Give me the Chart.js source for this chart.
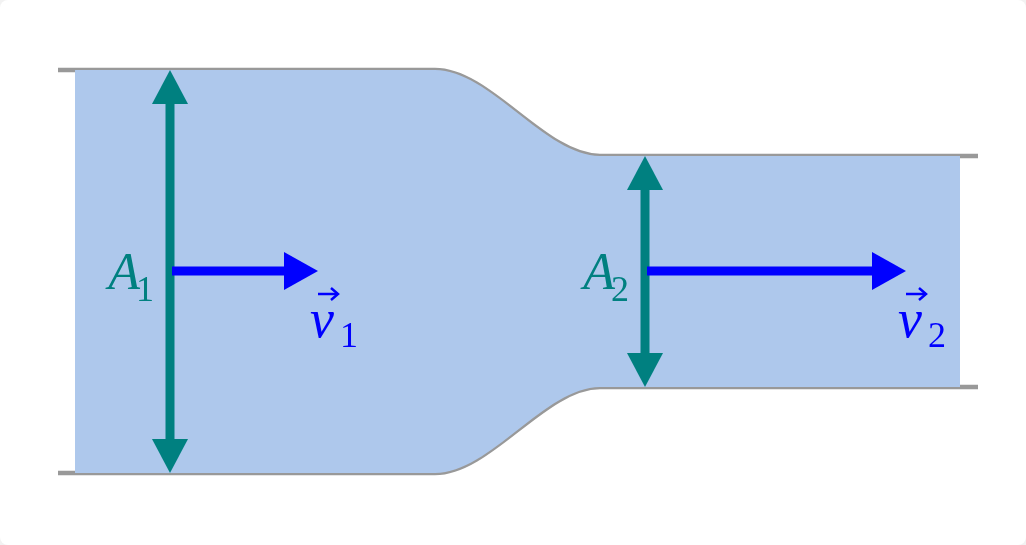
<!DOCTYPE html>
<html>
<head>
<meta charset="utf-8">
<script src="https://cdn.jsdelivr.net/npm/chart.js@4"></script>
<style>
  html, body { margin: 0; padding: 0; background: #f2f2f2; }
  #wrap { width: 1026px; height: 545px; background: #fff; border-radius: 8px; overflow: hidden; }
</style>
</head>
<body>
<div id="wrap"><canvas id="c" width="1026" height="545"></canvas></div>
<script>
// pipe profile (diagram units, y grows downward)
const wallX = [58, 435, 600, 978];
const topWall = [70, 70, 156, 156];
const bottomWall = [473, 473, 387, 387];
const fillX = [75, 435, 600, 960];

// sections: x position, top, bottom, velocity arrow end
const sections = [
  { x: 170, top: 70, bottom: 473, vEnd: 318, label: '1' },
  { x: 645, top: 156, bottom: 387, vEnd: 906, label: '2' }
];
const flowY = 271;

const teal = '#008080';
const blue = '#0000ff';
const pts = (xs, ys) => xs.map((x, i) => ({ x: x, y: ys[i] }));

const datasets = [
  { data: pts(fillX, topWall), showLine: true, borderWidth: 0, pointRadius: 0, cubicInterpolationMode: 'monotone', fill: false },
  { data: pts(fillX, bottomWall), showLine: true, borderWidth: 0, pointRadius: 0, cubicInterpolationMode: 'monotone',
    fill: '-1', backgroundColor: '#aec8ec' },
  { data: pts(wallX, topWall), showLine: true, borderColor: '#999', borderWidth: 4.5, pointRadius: 0, cubicInterpolationMode: 'monotone' },
  { data: pts(wallX, bottomWall), showLine: true, borderColor: '#999', borderWidth: 4.5, pointRadius: 0, cubicInterpolationMode: 'monotone' }
];

const decor = {
  id: 'decor',
  afterDatasetsDraw(chart) {
    const ctx = chart.ctx, xs = chart.scales.x, ys = chart.scales.y;
    const tri = (color, p) => {
      ctx.fillStyle = color; ctx.beginPath();
      ctx.moveTo(p[0][0], p[0][1]); ctx.lineTo(p[1][0], p[1][1]); ctx.lineTo(p[2][0], p[2][1]);
      ctx.closePath(); ctx.fill();
    };
    const seg = (color, x1, y1, x2, y2) => {
      ctx.strokeStyle = color; ctx.lineWidth = 9; ctx.lineCap = 'butt';
      ctx.beginPath(); ctx.moveTo(x1, y1); ctx.lineTo(x2, y2); ctx.stroke();
    };
    ctx.save();
    sections.forEach(s => {
      const px = xs.getPixelForValue(s.x);
      const t = ys.getPixelForValue(s.top), b = ys.getPixelForValue(s.bottom);
      const fy = ys.getPixelForValue(flowY), ve = xs.getPixelForValue(s.vEnd);
      seg(teal, px, t + 30, px, b - 30);
      tri(teal, [[px, t], [px - 18, t + 34], [px + 18, t + 34]]);
      tri(teal, [[px, b], [px - 18, b - 34], [px + 18, b - 34]]);
      seg(blue, px + 2, fy, ve - 30, fy);
      tri(blue, [[ve, fy], [ve - 34, fy - 19], [ve - 34, fy + 19]]);

      ctx.textBaseline = 'alphabetic';
      ctx.fillStyle = teal;
      ctx.font = 'italic 52px "Liberation Serif", "DejaVu Serif", serif';
      ctx.textAlign = 'right';
      ctx.fillText('A', px - 30, fy + 18);
      ctx.font = '36px "Liberation Serif", "DejaVu Serif", serif';
      ctx.textAlign = 'left';
      ctx.fillText(s.label, px - 34, fy + 30);

      ctx.fillStyle = blue;
      ctx.font = 'italic 54px "Liberation Serif", "DejaVu Serif", serif';
      const vx = ve + 10;
      ctx.fillText('v', vx - 18, fy + 66);
      ctx.font = '36px "Liberation Serif", "DejaVu Serif", serif';
      ctx.fillText(s.label, vx + 12, fy + 76);
      ctx.strokeStyle = blue; ctx.lineWidth = 2.5;
      ctx.beginPath(); ctx.moveTo(vx - 10, fy + 23); ctx.lineTo(vx + 10, fy + 23); ctx.stroke();
      ctx.beginPath(); ctx.moveTo(vx + 3, fy + 17); ctx.lineTo(vx + 10, fy + 23); ctx.lineTo(vx + 3, fy + 29); ctx.stroke();
    });
    ctx.restore();
  }
};

new Chart(document.getElementById('c'), {
  type: 'scatter',
  data: { datasets: datasets },
  options: {
    responsive: false, animation: false,
    layout: { padding: 0 },
    plugins: { legend: { display: false }, tooltip: { enabled: false } },
    scales: {
      x: { type: 'linear', min: 0, max: 1026, display: false },
      y: { type: 'linear', min: 0, max: 545, reverse: true, display: false }
    }
  },
  plugins: [decor]
});
</script>
</body>
</html>
